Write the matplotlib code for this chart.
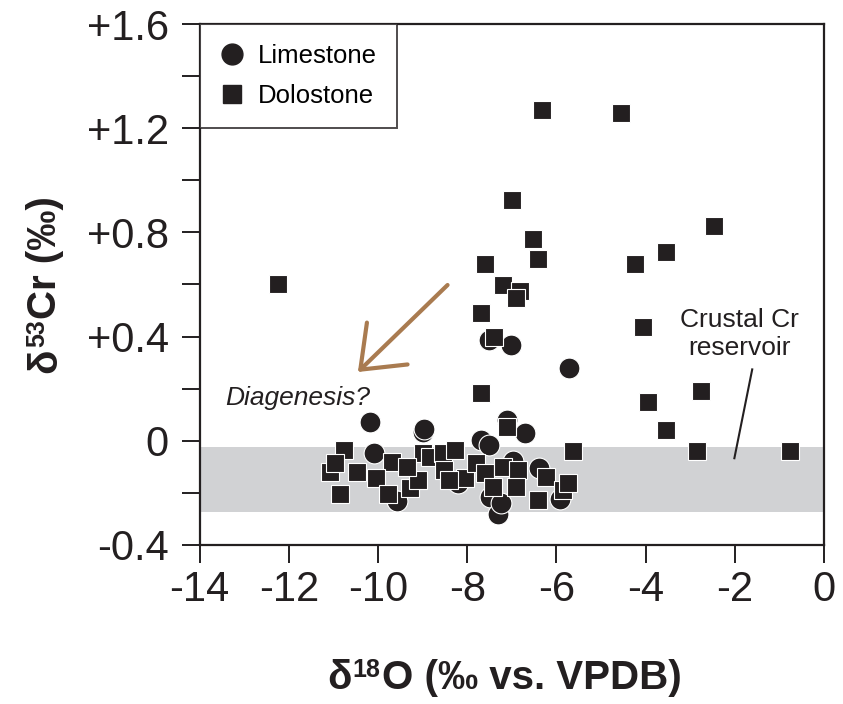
import matplotlib
matplotlib.use("Agg")
import matplotlib.pyplot as plt
from matplotlib.lines import Line2D

plt.rcParams['font.family'] = ['Liberation Sans', 'DejaVu Sans']

# Limestone (circles)
lime_x = [-10.17, -8.99, -8.97, -7.50, -7.02, -5.71, -7.11, -6.70, -7.70, -7.50,
          -10.10, -9.58, -8.21, -7.48, -7.32, -7.24, -6.98, -6.40, -5.92]
lime_y = [0.073, 0.035, 0.045, 0.387, 0.368, 0.278, 0.080, 0.031, 0.003, -0.016,
          -0.047, -0.230, -0.163, -0.215, -0.280, -0.240, -0.077, -0.103, -0.224]

# Dolostone (squares)
dolo_x = [-12.25, -6.32, -4.55, -7.00, -6.52, -6.42, -7.61, -4.24, -3.55, -2.46,
          -7.20, -6.81, -6.90, -7.70, -4.05, -7.40, -7.70, -3.94, -2.75, -3.55,
          -5.62, -2.85, -0.77, -7.11,
          -11.08, -10.76, -10.97, -10.48, -9.69, -10.05, -10.86, -9.78, -9.29, -9.11,
          -8.99, -9.36, -8.84, -8.55, -8.51, -8.28, -8.06, -7.80, -7.61, -7.20,
          -6.87, -6.90, -7.43, -6.23, -5.85, -5.75, -6.42, -8.40]
dolo_y = [0.60, 1.27, 1.26, 0.924, 0.775, 0.698, 0.678, 0.678, 0.726, 0.825,
          0.598, 0.576, 0.547, 0.489, 0.438, 0.400, 0.182, 0.150, 0.191, 0.041,
          -0.038, -0.038, -0.038, 0.054,
          -0.118, -0.035, -0.086, -0.118, -0.080, -0.144, -0.204, -0.204, -0.182, -0.150,
          -0.048, -0.100, -0.061, -0.048, -0.112, -0.035, -0.144, -0.086, -0.125, -0.100,
          -0.112, -0.176, -0.176, -0.138, -0.190, -0.163, -0.227, -0.150]

band_y = [-0.275, -0.025]
x_ticks = [-14, -12, -10, -8, -6, -4, -2, 0]
y_ticks = [-0.4, 0, 0.4, 0.8, 1.2, 1.6]
y_ticklabels = ['-0.4', '0', '+0.4', '+0.8', '+1.2', '+1.6']
y_minor = [-0.2, 0.2, 0.6, 1.0, 1.4]

ink = '#231F20'
fig = plt.figure(figsize=(8.43, 7.04), dpi=100)
ax = fig.add_axes([0.2367, 0.2259, 0.7408, 0.7400])

ax.axhspan(band_y[0], band_y[1], color='#D1D2D4', zorder=0, lw=0)

ax.plot(lime_x, lime_y, 'o', ms=15, mfc=ink, mec='white', mew=0.8, ls='none', zorder=3)
ax.plot(dolo_x, dolo_y, 's', ms=13.5, mfc=ink, mec='white', mew=0.8, ls='none', zorder=4)

ax.set_xlim(-14, 0)
ax.set_ylim(-0.4, 1.6)
ax.set_xticks(x_ticks)
ax.set_xticklabels([str(t) for t in x_ticks])
ax.set_yticks(y_ticks)
ax.set_yticklabels(y_ticklabels)
ax.set_yticks(y_minor, minor=True)

for s in ax.spines.values():
    s.set_linewidth(1.6)
    s.set_color(ink)
ax.tick_params(axis='both', which='both', direction='out', length=13, width=1.4, colors=ink,
               labelsize=30, labelcolor=ink)
ax.tick_params(axis='y', which='major', pad=9)
ax.tick_params(axis='x', which='major', pad=5)

# ---- axis labels built from pieces (bold, with raised superscripts) ----
FS = 29
SS = 18
RAISE = 8.5  # points
lab = dict(fontsize=FS, fontweight='bold', color=ink)
sup = dict(fontsize=SS, fontweight='bold', color=ink)

# x label: δ18O (‰ vs. VPDB)
xb, yb = 327 / 843, 1 - 689 / 704
t1 = fig.text(xb, yb, 'δ', ha='left', va='baseline', **lab)
t2 = fig.text(0, 0, '', **sup)
t2 = ax.annotate('18', xy=(1, yb), xycoords=(t1, 'figure fraction'),
                 xytext=(0.8, RAISE), textcoords='offset points',
                 ha='left', va='baseline', annotation_clip=False, **sup)
t3 = ax.annotate('O (‰ vs. VPDB)', xy=(1, yb), xycoords=(t2, 'figure fraction'),
                 xytext=(0.8, 0), textcoords='offset points',
                 ha='left', va='baseline', annotation_clip=False, **lab)

# y label: δ53Cr (‰), rotated
xb2, yb2 = 56 / 843, 1 - 373 / 704
r1 = fig.text(xb2, yb2, 'δ', ha='left', va='baseline', rotation=90,
              rotation_mode='anchor', **lab)
r2 = ax.annotate('53', xy=(xb2, 1), xycoords=('figure fraction', r1),
                 xytext=(-RAISE, 0.8), textcoords='offset points',
                 ha='left', va='baseline', rotation=90, rotation_mode='anchor',
                 annotation_clip=False, **sup)
r3 = ax.annotate('Cr (‰)', xy=(xb2, 1), xycoords=('figure fraction', r2),
                 xytext=(0, 0.8), textcoords='offset points',
                 ha='left', va='baseline', rotation=90, rotation_mode='anchor',
                 annotation_clip=False, **lab)

# Diagenesis arrow
ax.annotate('', xy=(-10.45, 0.264), xytext=(-8.44, 0.598),
            arrowprops=dict(arrowstyle='->,head_length=2.7,head_width=2.1', color='#A97B50',
                            lw=3.0, shrinkA=0, shrinkB=0),
            zorder=5)
ax.text(-13.43, 0.164, 'Diagenesis?', fontsize=19, style='italic', color=ink, va='center', ha='left')

# Crustal Cr reservoir
ax.text(-1.90, 0.41, 'Crustal Cr\nreservoir', fontsize=19, color=ink, ha='center', va='center',
        linespacing=1.2)
ax.plot([-1.61, -2.01], [0.274, -0.067], color=ink, lw=1.5, zorder=5)

handles = [Line2D([], [], marker='o', ls='none', ms=15, mfc=ink, mec=ink, label='Limestone'),
           Line2D([], [], marker='s', ls='none', ms=13, mfc=ink, mec=ink, label='Dolostone')]
leg = ax.legend(handles=handles, loc='upper left', borderaxespad=0, fontsize=18.5,
                frameon=True, fancybox=False, edgecolor=ink, handletextpad=0.48,
                borderpad=0.78, labelspacing=0.63, handlelength=1.0)
leg.get_frame().set_linewidth(1.4)
leg.set_zorder(6)

fig.savefig('out.png', dpi=100)
